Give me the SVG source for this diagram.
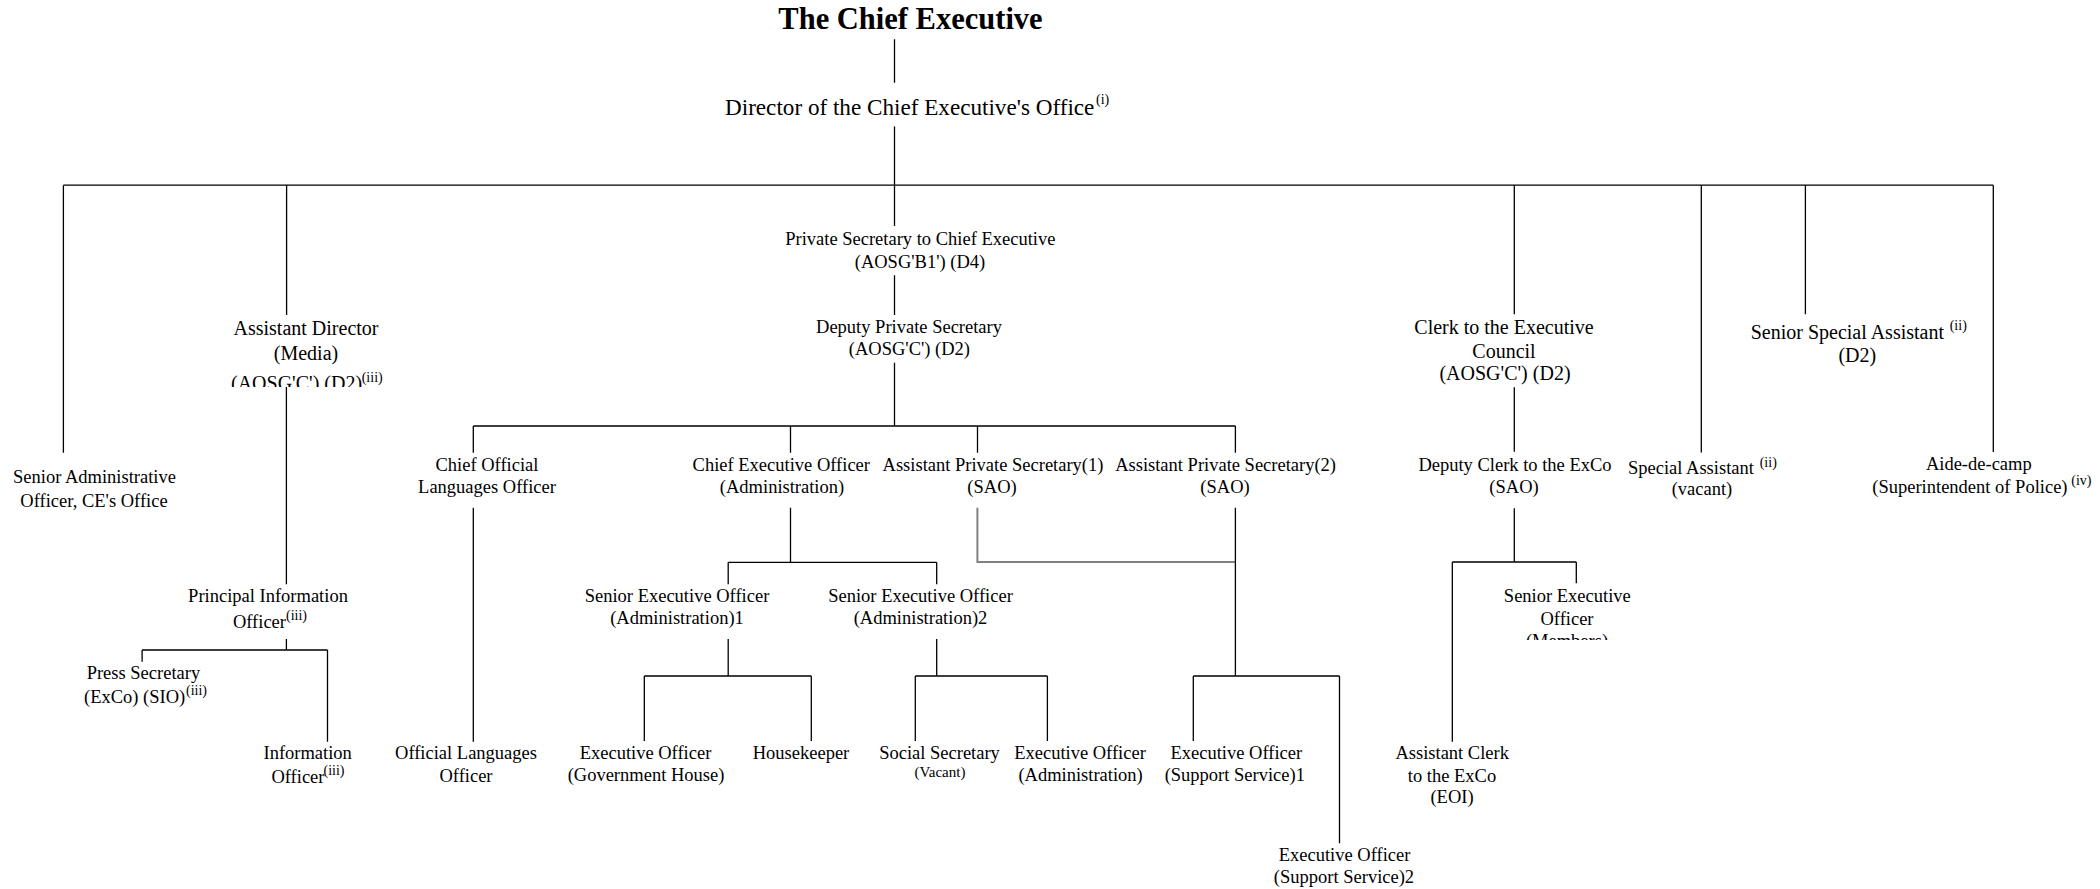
<svg xmlns="http://www.w3.org/2000/svg" width="2100" height="889" viewBox="0 0 2100 889">
<style>
text{font-family:"Liberation Serif","Times New Roman",serif;fill:#000;font-size:18.5px}
.c{text-anchor:middle}
.b20{font-size:20px}
.sup{font-size:14px}
.title{font-size:30.5px;font-weight:bold}
.ln{stroke:#000;stroke-width:1.3;fill:none}
.gr{stroke:#808080;stroke-width:2;fill:none}
</style>
<defs>
<clipPath id="clipAD"><rect x="200" y="300" width="220" height="87"/></clipPath>
<clipPath id="clipSEOM"><rect x="1480" y="580" width="180" height="60"/></clipPath>
</defs>
<rect width="2100" height="889" fill="#fff"/>
<g id="connectors">
<path class="ln" d="M894.5 39.3V82.7M894.5 126.5V226M63.4 185.2H1993.3M63.4 185.2V452.7M286.6 185.2V315M1514.3 185.2V314.3M1701.3 185.2V452.5M1805.4 185.2V314.3M1993.3 185.2V452"/>
<path class="ln" d="M894.5 275.3V315M894.5 362.7V426M473.3 426H1235.4M473.3 426V452.7M790.5 426V452.7M977.5 426V452.7M1235.4 426V452.7"/>
<path class="ln" d="M473.3 507.7V741.7M790.5 507.7V562.3M728.2 562.3H936.7M728.2 562.3V584.3M936.7 562.3V584.3"/>
<path class="ln" d="M728.2 639V676M644.3 676H811.3M644.3 676V741M811.3 676V741M936.7 639V676M915.3 676H1047.4M915.3 676V741M1047.4 676V741"/>
<path class="gr" d="M977.4 507.7V562H1235.4"/>
<path class="ln" d="M1235.4 507.7V676M1193.3 676H1339.5M1193.3 676V741M1339.5 676V843.3"/>
<path class="ln" d="M286.4 387V584.3M286.4 639V650M142.1 650H327.5M142.1 650V661.7M327.5 650V741.7"/>
<path class="ln" d="M1514.3 387.3V451.7M1514.3 508.3V562M1452.3 562H1576.3M1576.3 562V583.3M1452.3 562V741.7"/>
</g>
<g id="n-title"><text class="title c" x="910.5" y="29.3">The Chief Executive</text></g>
<g id="n-director"><text style="font-size:23.15px" x="725" y="114.5">Director of the Chief Executive's Office</text><text class="sup" x="1096" y="104">(i)</text></g>
<g id="n-ps"><text class="c" x="920.3" y="245">Private Secretary to Chief Executive</text><text class="c" x="920" y="268">(AOSG'B1') (D4)</text></g>
<g id="n-dps"><text class="c" x="909" y="333.3">Deputy Private Secretary</text><text class="c" x="909.4" y="355">(AOSG'C') (D2)</text></g>
<g id="n-sao"><text class="c" x="94.5" y="482.5">Senior Administrative</text><text class="c" x="94" y="506.5">Officer, CE's Office</text></g>
<g id="n-ad"><text class="b20 c" x="306" y="335">Assistant Director</text><text class="b20 c" x="306" y="359.5">(Media)</text>
<g clip-path="url(#clipAD)"><text class="b20" x="231" y="390">(AOSG'C') (D2)</text><text class="sup" x="361.7" y="382">(iii)</text></g></g>
<g id="n-clerk"><text class="b20 c" x="1504" y="333.5">Clerk to the Executive</text><text class="b20 c" x="1504" y="357.5">Council</text><text class="b20 c" x="1505" y="380">(AOSG'C') (D2)</text></g>
<g id="n-ssa"><text class="b20" x="1750.7" y="339">Senior Special Assistant</text><text class="sup" x="1949.7" y="330">(ii)</text><text class="b20 c" x="1857.3" y="361.5">(D2)</text></g>
<g id="n-colo"><text class="c" x="487" y="470.5">Chief Official</text><text class="c" x="487" y="493">Languages Officer</text></g>
<g id="n-ceo"><text class="c" x="781.3" y="470.5">Chief Executive Officer</text><text class="c" x="782" y="493">(Administration)</text></g>
<g id="n-aps1"><text class="c" x="993" y="470.5">Assistant Private Secretary(1)</text><text class="c" x="992" y="493">(SAO)</text></g>
<g id="n-aps2"><text class="c" x="1225.6" y="470.5">Assistant Private Secretary(2)</text><text class="c" x="1225" y="493">(SAO)</text></g>
<g id="n-dclerk"><text class="c" x="1515" y="470.7">Deputy Clerk to the ExCo</text><text class="c" x="1514" y="493">(SAO)</text></g>
<g id="n-sa"><text x="1628" y="474">Special Assistant</text><text class="sup" x="1759.7" y="467">(ii)</text><text class="c" x="1702" y="495">(vacant)</text></g>
<g id="n-adc"><text class="c" x="1978.8" y="470">Aide-de-camp</text><text x="1872.3" y="493">(Superintendent of Police)</text><text class="sup" x="2071.3" y="484.5">(iv)</text></g>
<g id="n-pio"><text class="c" x="268" y="602">Principal Information</text><text x="232.9" y="628">Officer</text><text class="sup" x="286" y="620">(iii)</text></g>
<g id="n-seo1"><text class="c" x="677" y="602">Senior Executive Officer</text><text class="c" x="677" y="624">(Administration)1</text></g>
<g id="n-seo2"><text class="c" x="920.5" y="602">Senior Executive Officer</text><text class="c" x="920.5" y="624">(Administration)2</text></g>
<g id="n-seom"><text class="c" x="1567.3" y="602">Senior Executive</text><text class="c" x="1567" y="625">Officer</text><g clip-path="url(#clipSEOM)"><text class="c" x="1567" y="646.5">(Members)</text></g></g>
<g id="n-press"><text class="c" x="143.4" y="678.5">Press Secretary</text><text x="84" y="703">(ExCo) (SIO)</text><text class="sup" x="186" y="695">(iii)</text></g>
<g id="n-io"><text class="c" x="307.7" y="758.5">Information</text><text x="271.4" y="782.5">Officer</text><text class="sup" x="323.5" y="774.5">(iii)</text></g>
<g id="n-olo"><text class="c" x="466" y="758.5">Official Languages</text><text class="c" x="466" y="781.5">Officer</text></g>
<g id="n-eogh"><text class="c" x="645.5" y="758.5">Executive Officer</text><text class="c" x="646" y="781">(Government House)</text></g>
<g id="n-hk"><text class="c" x="801" y="758.5">Housekeeper</text></g>
<g id="n-ss"><text class="c" x="939.5" y="758.5">Social Secretary</text><text class="c" style="font-size:15px" x="940" y="777">(Vacant)</text></g>
<g id="n-eoa"><text class="c" x="1080" y="758.5">Executive Officer</text><text class="c" x="1080.6" y="781">(Administration)</text></g>
<g id="n-eoss1"><text class="c" x="1236.3" y="758.5">Executive Officer</text><text class="c" x="1234.8" y="781">(Support Service)1</text></g>
<g id="n-eoss2"><text class="c" x="1344.6" y="861">Executive Officer</text><text class="c" x="1344" y="883">(Support Service)2</text></g>
<g id="n-acl"><text class="c" x="1452.2" y="759">Assistant Clerk</text><text class="c" x="1452" y="781.7">to the ExCo</text><text class="c" x="1452" y="803">(EOI)</text></g>
</svg>
